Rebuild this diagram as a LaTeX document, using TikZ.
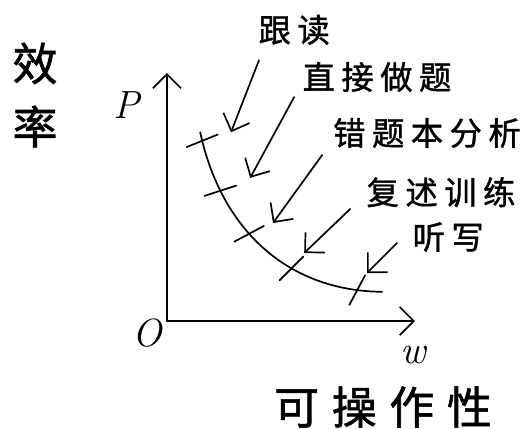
\documentclass[tikz,border=0pt]{standalone}
\usepackage{fontspec}
\newfontfamily\cjk[LetterSpace=20,FakeBold=1.2]{Noto Sans CJK SC}
\newfontfamily\cjkwide[LetterSpace=28,FakeBold=1.2]{Noto Sans CJK SC}
\usetikzlibrary{arrows.meta}

\begin{document}
\begin{tikzpicture}[line width=1.2pt,line cap=round,
  >={Straight Barb[length=10pt,width=20pt]},
  tag/.style={font=\cjk\fontsize{23}{23}\selectfont},
  axistitle/.style={font=\cjkwide\fontsize{32}{45}\selectfont,align=center},
  axisletter/.style={font=\itshape\fontsize{28}{28}\selectfont}]
\useasboundingbox (-4.175,-2.675) rectangle (9.1,8.025);

\coordinate (o) at (0,0);
\coordinate (ytip) at (0,6.2);
\coordinate (xtip) at (6.2,0);

% axes
\draw[->] (o) -- (ytip);
\draw[->] (o) -- (xtip);
\node[axisletter] (olabel) at (-0.5,-0.3) {O};
\node[axisletter] (plabel) at (-1.0,5.4) {P};
\node[axisletter] (wlabel) at (6.15,-0.85) {w};
\node[axistitle] (xiaolv) at (-3.3,5.65) {效\\率};
\node[axistitle] (kecaozuo) at (5.4,-2.15) {可操作性};

% curve with its marks
\coordinate (c0) at (0.83,4.72);
\coordinate (c6) at (5.38,0.73);
\draw (c0) .. controls (1.35,2.3) and (3.0,0.75) .. (c6)
  coordinate[pos=0.03] (t1) coordinate[pos=0.22] (t2)
  coordinate[pos=0.42] (t3) coordinate[pos=0.64] (t4)
  coordinate[pos=0.91] (t5);
\foreach \i/\a in {1/22, 2/18, 3/28, 4/45, 5/62}
  \draw ([shift={(\a:-0.42)}]t\i) -- ([shift={(\a:0.42)}]t\i);

% labels and pointers
\node[tag] (gendu) at (3.18,7.28) {跟读};
\node[tag] (zuoti) at (5.25,6.1) {直接做题};
\node[tag] (cuoti) at (6.5,4.7) {错题本分析};
\node[tag] (fushu) at (6.85,3.22) {复述训练};
\node[tag] (tingxie) at (7.03,2.1) {听写};

\coordinate (s1) at (2.3,6.52);  \coordinate (e1) at (1.6,4.72);
\coordinate (s2) at (3.18,5.6);  \coordinate (e2) at (2.08,3.58);
\coordinate (s3) at (3.88,4.15); \coordinate (e3) at (2.65,2.45);
\coordinate (s4) at (4.58,2.8);  \coordinate (e4) at (3.43,1.7);
\coordinate (s5) at (5.75,1.95); \coordinate (e5) at (5.0,1.2);
\foreach \i in {1,...,5}
  \draw[->] (s\i) -- (e\i);

\end{tikzpicture}
\end{document}
